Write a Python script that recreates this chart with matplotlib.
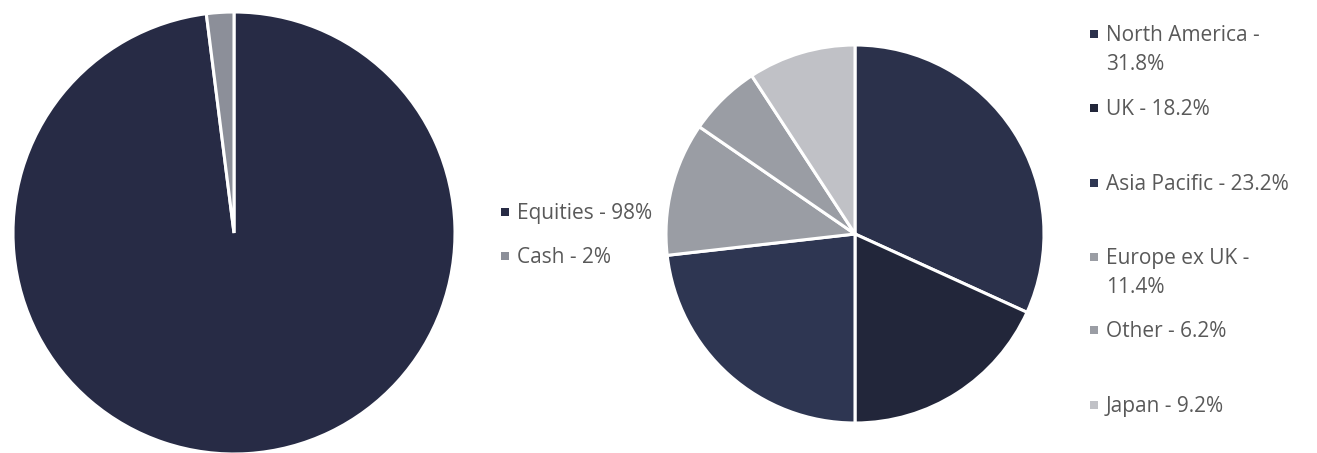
import matplotlib.pyplot as plt
from matplotlib.patches import Rectangle

plt.rcParams['font.family'] = ['Open Sans', 'DejaVu Sans']

# asset allocation
asset_labels = ['Equities - 98%', 'Cash - 2%']
asset_values = [98, 2]
asset_colors = ['#272b45', '#8c8f99']

# regional split
region_labels = ['North America -\n31.8%', 'UK - 18.2%', 'Asia Pacific - 23.2%',
                 'Europe ex UK -\n11.4%', 'Other - 6.2%', 'Japan - 9.2%']
region_values = [31.8, 18.2, 23.2, 11.4, 6.2, 9.2]
region_colors = ['#2b314b', '#22263a', '#2e3652', '#9a9da4', '#9a9da4', '#c0c1c6']

W, H = 1317, 453
fig = plt.figure(figsize=(W / 100, H / 100), dpi=100)

def px_axes(cx, cy, r):
    # axes box from pixel centre / radius (y measured from top)
    return fig.add_axes([(cx - r) / W, (H - cy - r) / H, 2 * r / W, 2 * r / H])

wedge_style = dict(edgecolor='white', linewidth=2.2)

ax1 = px_axes(234, 233, 221)
ax1.pie(asset_values, colors=asset_colors, startangle=90, counterclock=False,
        wedgeprops=wedge_style)
ax1.set_xlim(-1, 1)
ax1.set_ylim(-1, 1)
ax1.axis('off')

ax2 = px_axes(855, 234, 189)
ax2.pie(region_values, colors=region_colors, startangle=90, counterclock=False,
        wedgeprops=wedge_style)
ax2.set_xlim(-1, 1)
ax2.set_ylim(-1, 1)
ax2.axis('off')

def legend_item(x, y, label, color):
    s = 8
    fig.add_artist(Rectangle(((x - s / 2) / W, (H - y - s / 2) / H), s / W, s / H,
                             transform=fig.transFigure, color=color, lw=0))
    for i, line in enumerate(label.split('\n')):
        fig.text((x + 12) / W, (H - y - 1.5 - 29 * i) / H, line, fontsize=15,
                 color='#595959', va='center')

# left legend
for lab, col, y in zip(asset_labels, asset_colors, [212, 256]):
    legend_item(505, y, lab, col)

# right legend
for lab, col, y in zip(region_labels, region_colors, [34, 108, 183, 257, 330, 405]):
    legend_item(1094, y, lab, col)

fig.savefig('out.png', dpi=100)
